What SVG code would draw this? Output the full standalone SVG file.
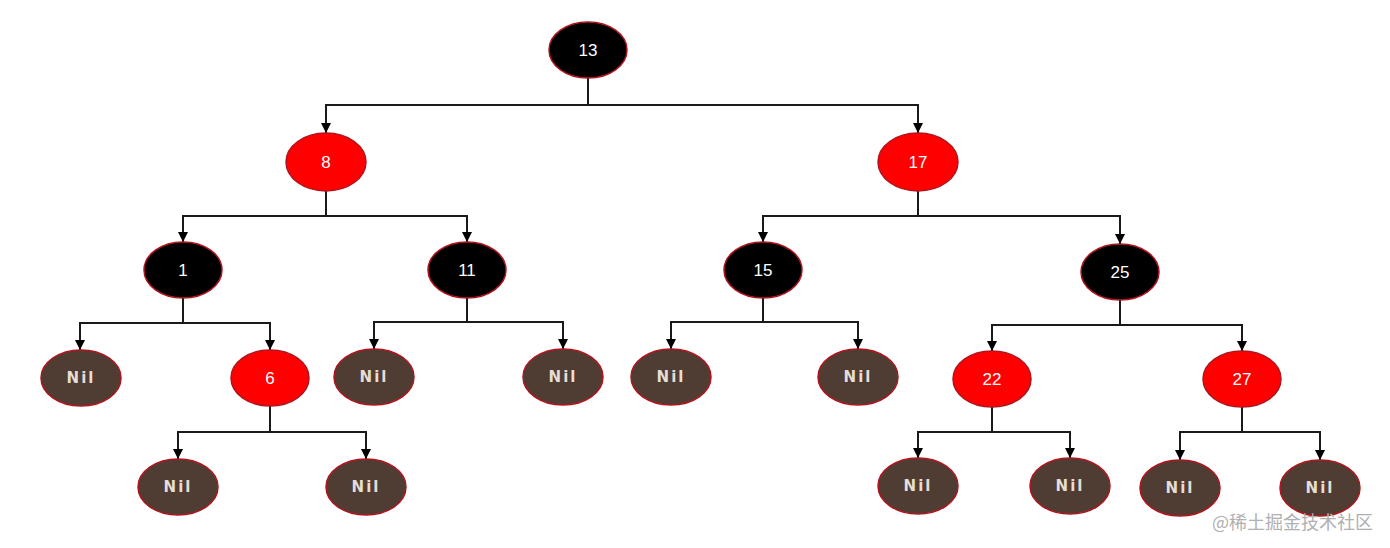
<svg xmlns="http://www.w3.org/2000/svg" width="1390" height="548" viewBox="0 0 1390 548">
<style>
.n ellipse{stroke:#b0141e;stroke-width:1.5}
.b ellipse{fill:#000}
.r ellipse{fill:#ff0000}
.nil ellipse{fill:#4f3d33}
text{font-family:"Liberation Sans",Arial,sans-serif;font-size:17px;text-anchor:middle;dominant-baseline:central;fill:#fff}
.nil text{font-family:"DejaVu Sans",sans-serif;font-weight:bold;font-size:15px;fill:#e6ddd5;letter-spacing:2px}
.c path{fill:none;stroke:#1a1a1a;stroke-width:2}
.wm{fill:#b0b0b0;font-family:"Noto Sans CJK SC","Liberation Sans",sans-serif;font-size:18px;text-anchor:start}
</style>
<defs>
<marker id="a" viewBox="0 0 10 10" refX="10" refY="5" markerWidth="5" markerHeight="5" orient="auto" markerUnits="strokeWidth">
<path d="M0,0L10,5L0,10z" fill="#000"/>
</marker>
</defs>
<g class="c">
<path d="M588,78V105H326V133" marker-end="url(#a)"/>
<path d="M588,105H918V133" marker-end="url(#a)"/>
<path d="M326,191V216H183V242" marker-end="url(#a)"/>
<path d="M326,216H467V242" marker-end="url(#a)"/>
<path d="M918,191V216H763V242" marker-end="url(#a)"/>
<path d="M918,216H1120V244" marker-end="url(#a)"/>
<path d="M183,298V323H80V350" marker-end="url(#a)"/>
<path d="M183,323H270V350" marker-end="url(#a)"/>
<path d="M467,298V322H374V349" marker-end="url(#a)"/>
<path d="M467,322H563V349" marker-end="url(#a)"/>
<path d="M763,298V322H671V349" marker-end="url(#a)"/>
<path d="M763,322H858V349" marker-end="url(#a)"/>
<path d="M1120,300V325H992V351" marker-end="url(#a)"/>
<path d="M1120,325H1242V351" marker-end="url(#a)"/>
<path d="M270,406V432H178V459" marker-end="url(#a)"/>
<path d="M270,432H366V459" marker-end="url(#a)"/>
<path d="M992,407V432H918V458" marker-end="url(#a)"/>
<path d="M992,432H1070V458" marker-end="url(#a)"/>
<path d="M1242,407V432H1180V460" marker-end="url(#a)"/>
<path d="M1242,432H1320V460" marker-end="url(#a)"/>
</g>
<g id="n13" class="n b"><ellipse cx="588" cy="50" rx="39" ry="28"/><text x="588" y="50">13</text></g>
<g id="n8" class="n r"><ellipse cx="326" cy="162" rx="40" ry="29"/><text x="326" y="162">8</text></g>
<g id="n17" class="n r"><ellipse cx="918" cy="162" rx="40" ry="29"/><text x="918" y="162">17</text></g>
<g id="n1" class="n b"><ellipse cx="183" cy="270" rx="39" ry="28"/><text x="183" y="270">1</text></g>
<g id="n11" class="n b"><ellipse cx="467" cy="270" rx="39" ry="28"/><text x="467" y="270">11</text></g>
<g id="n15" class="n b"><ellipse cx="763" cy="270" rx="39" ry="28"/><text x="763" y="270">15</text></g>
<g id="n25" class="n b"><ellipse cx="1120" cy="272" rx="39" ry="28"/><text x="1120" y="272">25</text></g>
<g id="nil1" class="n nil"><ellipse cx="81" cy="378" rx="40" ry="28"/><text x="81" y="378">Nil</text></g>
<g id="n6" class="n r"><ellipse cx="270" cy="378" rx="39" ry="28"/><text x="270" y="378">6</text></g>
<g id="nil2" class="n nil"><ellipse cx="374" cy="377" rx="40" ry="28"/><text x="374" y="377">Nil</text></g>
<g id="nil3" class="n nil"><ellipse cx="563" cy="377" rx="40" ry="28"/><text x="563" y="377">Nil</text></g>
<g id="nil4" class="n nil"><ellipse cx="671" cy="377" rx="40" ry="28"/><text x="671" y="377">Nil</text></g>
<g id="nil5" class="n nil"><ellipse cx="858" cy="377" rx="40" ry="28"/><text x="858" y="377">Nil</text></g>
<g id="n22" class="n r"><ellipse cx="992" cy="379" rx="39" ry="28"/><text x="992" y="379">22</text></g>
<g id="n27" class="n r"><ellipse cx="1242" cy="379" rx="39" ry="28"/><text x="1242" y="379">27</text></g>
<g id="nil6" class="n nil"><ellipse cx="178" cy="487" rx="40" ry="28"/><text x="178" y="487">Nil</text></g>
<g id="nil7" class="n nil"><ellipse cx="366" cy="487" rx="40" ry="28"/><text x="366" y="487">Nil</text></g>
<g id="nil8" class="n nil"><ellipse cx="918" cy="486" rx="40" ry="28"/><text x="918" y="486">Nil</text></g>
<g id="nil9" class="n nil"><ellipse cx="1070" cy="486" rx="40" ry="28"/><text x="1070" y="486">Nil</text></g>
<g id="nil10" class="n nil"><ellipse cx="1180" cy="488" rx="40" ry="28"/><text x="1180" y="488">Nil</text></g>
<g id="nil11" class="n nil"><ellipse cx="1320" cy="488" rx="40" ry="28"/><text x="1320" y="488">Nil</text></g>
<text class="wm" x="1212" y="521">@稀土掘金技术社区</text>
</svg>
